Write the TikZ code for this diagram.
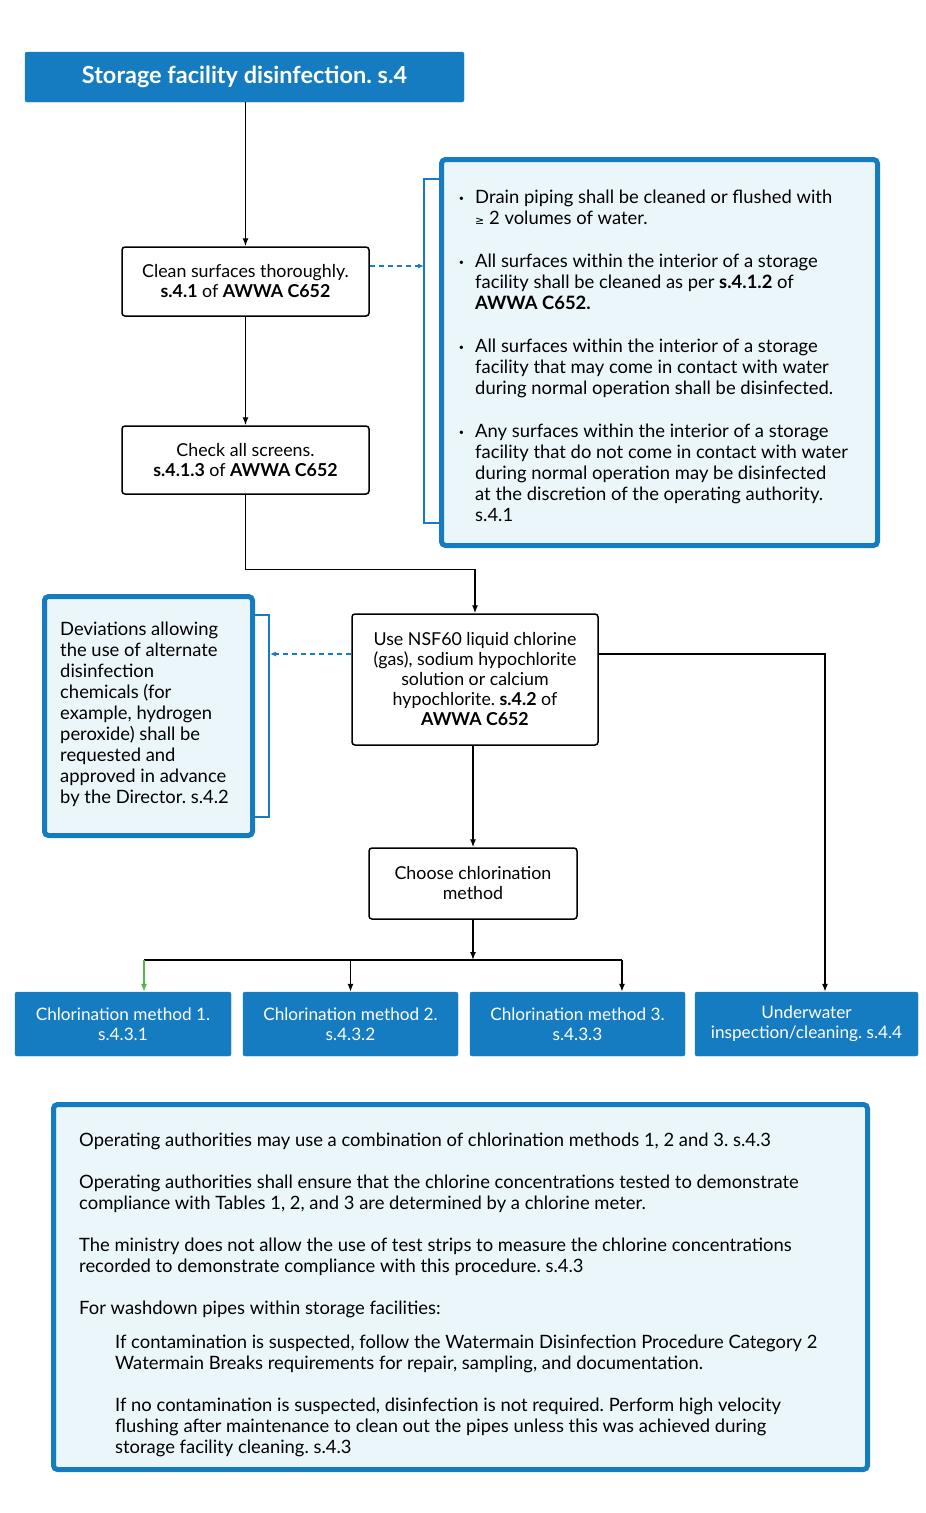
\documentclass[tikz,border=0pt]{standalone}
\usepackage{fontspec}
\setmainfont{Lato}
\newfontfamily\symfont{DejaVu Sans}
\usepackage{xcolor}
\usepackage{tikz}
\usetikzlibrary{arrows.meta,positioning,calc}
\frenchspacing

\definecolor{ontblue}{HTML}{167CC1}
\definecolor{notefill}{HTML}{EBF6FB}
\definecolor{okgreen}{HTML}{4DB849}
\newcommand{\bodyfont}{\fontsize{17.8}{20}\selectfont}
\newcommand{\methodfont}{\fontsize{17.2}{20}\selectfont}
\newcommand{\notefont}{\fontsize{18.4}{21}\selectfont}
\newcommand{\bul}{\llap{\raisebox{2pt}{\fontsize{9}{9}\selectfont\textbullet}\hspace{11pt}}}

\begin{document}
\begin{tikzpicture}[
    x=1pt, y=-1pt,
    titlebox/.style={rectangle, fill=ontblue, draw=ontblue, text=white, rounded corners=2pt, font=\bfseries\fontsize{23.5}{26}\selectfont, minimum width=439pt, minimum height=50pt},
    stepbox/.style={rectangle, draw=black, fill=white, line width=1.5pt, rounded corners=3pt, align=center, font=\bodyfont, inner sep=0pt},
    methodbox/.style={rectangle, fill=ontblue, draw=ontblue, text=white, rounded corners=2pt, align=center, font=\methodfont, minimum height=64pt, inner sep=0pt},
    notebox/.style={rectangle, draw=ontblue, fill=notefill, line width=5pt, rounded corners=4pt},
    notetext/.style={align=left, font=\notefont, inner sep=0pt},
    flow/.style={-{Latex[length=8pt,width=6pt]}, line width=1.4pt, black},
    plain/.style={line width=1.4pt, black},
    dashlink/.style={-{Latex[length=6pt,width=5pt]}, line width=1.1pt, ontblue, dash pattern=on 5pt off 4pt},
    bracket/.style={line width=1.5pt, ontblue}
]
    \useasboundingbox (0,0) rectangle (926,1513);

    % Nodes
    \node[titlebox] (title) at (244.5,77) {Storage facility disinfection. s.4};
    \node[stepbox, minimum width=247pt, minimum height=69pt] (clean) at (245.5,281.5)
        {Clean surfaces thoroughly.\\ \textbf{s.4.1} of \textbf{AWWA C652}};
    \node[stepbox, minimum width=247pt, minimum height=68pt] (screens) at (245.5,460)
        {Check all screens.\\ \textbf{s.4.1.3} of \textbf{AWWA C652}};
    \node[stepbox, minimum width=246pt, minimum height=131pt] (nsf) at (475,679.5)
        {Use NSF60 liquid chlorine\\(gas), sodium hypochlorite\\solution or calcium\\hypochlorite. \textbf{s.4.2} of\\\textbf{AWWA C652}};
    \node[stepbox, minimum width=208pt, minimum height=71pt] (choose) at (473,883.5)
        {Choose chlorination\\method};

    % Chlorination methods
    \node[methodbox, minimum width=216pt] (m1) at (123,1024) {Chlorination method 1.\\s.4.3.1};
    \node[methodbox, minimum width=215pt] (m2) at (350.5,1024) {Chlorination method 2.\\s.4.3.2};
    \node[methodbox, minimum width=215pt] (m3) at (577.5,1024) {Chlorination method 3.\\s.4.3.3};
    \node[methodbox, minimum width=223pt] (m4) at (806.5,1024) {Underwater\\inspection/cleaning. s.4.4};

    % Note boxes
    \node[notebox, minimum width=436pt, minimum height=386pt] (rnote) at (659.5,352.5) {};
    \node[notetext, anchor=west] (rtext) at (475,356) {%
        \bul Drain piping shall be cleaned or flushed with\\
        {\symfont\fontsize{11}{11}\selectfont ≥} 2 volumes of water.\\[22pt]
        \bul All surfaces within the interior of a storage\\
        facility shall be cleaned as per \textbf{s.4.1.2} of\\
        \textbf{AWWA C652.}\\[22pt]
        \bul All surfaces within the interior of a storage\\
        facility that may come in contact with water\\
        during normal operation shall be disinfected.\\[22pt]
        \bul Any surfaces within the interior of a storage\\
        facility that do not come in contact with water\\
        during normal operation may be disinfected\\
        at the discretion of the operating authority.\\
        s.4.1};
    \node[notebox, minimum width=208pt, minimum height=239pt] (lnote) at (148.5,716) {};
    \node[notetext, anchor=west] (ltext) at (60,714) {%
        Deviations allowing\\the use of alternate\\disinfection\\chemicals (for\\example, hydrogen\\
        peroxide) shall be\\requested and\\approved in advance\\by the Director. s.4.2};
    \node[notebox, minimum width=814pt, minimum height=365pt] (bnote) at (460.5,1287) {};
    \node[notetext, anchor=west] (btext) at (79,1295) {%
        Operating authorities may use a combination of chlorination methods 1, 2 and 3. s.4.3\\[21pt]
        Operating authorities shall ensure that the chlorine concentrations tested to demonstrate\\
        compliance with Tables 1, 2, and 3 are determined by a chlorine meter.\\[21pt]
        The ministry does not allow the use of test strips to measure the chlorine concentrations\\
        recorded to demonstrate compliance with this procedure. s.4.3\\[21pt]
        For washdown pipes within storage facilities:\\[13pt]
        \hspace*{36pt}If contamination is suspected, follow the Watermain Disinfection Procedure Category 2\\
        \hspace*{36pt}Watermain Breaks requirements for repair, sampling, and documentation.\\[21pt]
        \hspace*{36pt}If no contamination is suspected, disinfection is not required. Perform high velocity\\
        \hspace*{36pt}flushing after maintenance to clean out the pipes unless this was achieved during\\
        \hspace*{36pt}storage facility cleaning. s.4.3};

    % Brackets beside the notes
    \draw[bracket] ([yshift=-22pt]rnote.north west) -- ++(-15,0) |- ([yshift=25pt]rnote.south west);
    \draw[bracket] ([yshift=-21pt]lnote.north east) -- ++(14,0) |- ([yshift=21pt]lnote.south east);
    \coordinate (rbrk) at (424,266);
    \coordinate (lbrk) at (270,654);

    % Main flow
    \draw[flow] (clean.north |- title.south) -- (clean.north);
    \draw[flow] (clean) -- (screens);
    \draw[flow] (screens.south) -- ++(0,75) -| (nsf.north);
    \draw[flow] (choose.north |- nsf.south) -- (choose.north);
    \draw[flow] ([yshift=25.5pt]nsf.east) -| ([xshift=18.5pt]m4.north);

    % Dashed links to the notes
    \draw[dashlink] ([yshift=15.5pt]clean.east) -- (rbrk);
    \draw[dashlink] ([yshift=25.5pt]nsf.west) -- (lbrk);

    % Split to the methods
    \coordinate (busL) at (144,960);
    \coordinate (busR) at (622,960);
    \draw[flow] (choose.south) -- (choose.south |- busL);
    \draw[plain] (busL) -- (busR);
    \draw[flow, okgreen, line width=1.2pt] (busL) -- (busL |- m1.north);
    \draw[flow] (m2.north |- busL) -- (m2.north);
    \draw[flow] (busR) -- (busR |- m3.north);
\end{tikzpicture}
\end{document}
